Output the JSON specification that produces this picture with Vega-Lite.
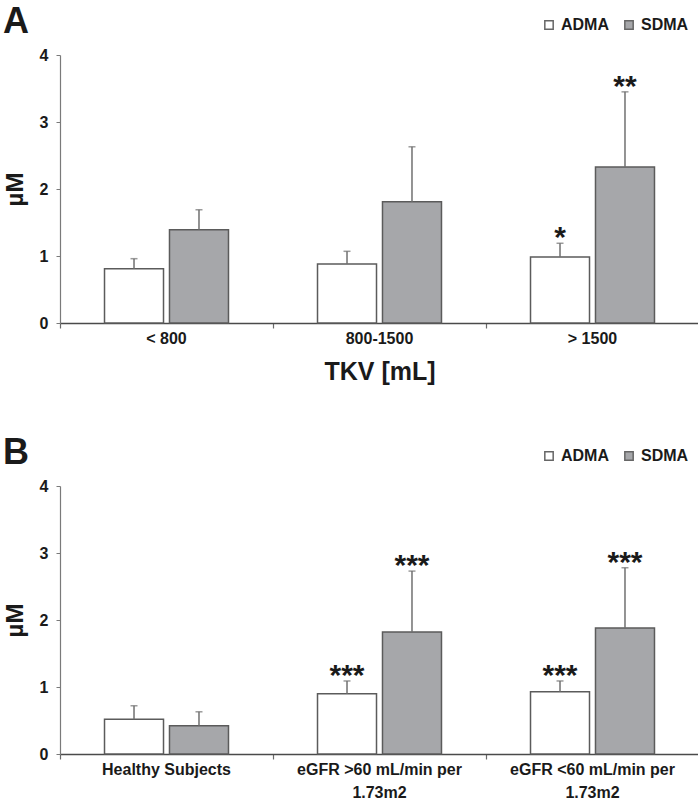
{
  "$schema": "https://vega.github.io/schema/vega-lite/v6.json",
  "padding": {"left": 3, "top": 4, "right": 0, "bottom": 0},
  "background": "white",
  "spacing": 51,
  "config": {
    "font": "Liberation Sans",
    "view": {"stroke": null},
    "axis": {
      "grid": false,
      "labelFont": "Liberation Sans",
      "labelFontWeight": "bold",
      "labelFontSize": 16,
      "labelColor": "#1a1a1a",
      "titleFont": "Liberation Sans",
      "titleFontWeight": "bold",
      "titleColor": "#1a1a1a"
    },
    "axisX": {
      "labelAngle": 0,
      "domainColor": "#4a4a4a",
      "domainWidth": 1.5,
      "tickColor": "#6a6a6a",
      "tickWidth": 1.2,
      "tickSize": 5,
      "labelPadding": 2,
      "labelLimit": 300,
      "bandPosition": 1,
      "tickExtra": true,
      "titleFontSize": 25,
      "titlePadding": 13
    },
    "axisY": {
      "domainColor": "#7a7a7a",
      "domainWidth": 1.2,
      "tickColor": "#7a7a7a",
      "tickSize": 4,
      "labelPadding": 8,
      "titleFontSize": 24,
      "titlePadding": 12
    },
    "legend": {
      "orient": "none",
      "legendX": 481,
      "legendY": -38,
      "direction": "horizontal",
      "title": null,
      "symbolType": "square",
      "symbolSize": 70,
      "symbolStrokeColor": "#666666",
      "symbolStrokeWidth": 1.5,
      "labelFont": "Liberation Sans",
      "labelFontSize": 16,
      "labelFontWeight": "bold",
      "labelColor": "#1a1a1a",
      "labelOffset": 4,
      "columnPadding": 12
    },
    "title": {
      "anchor": "start",
      "frame": "bounds",
      "font": "Liberation Sans",
      "fontSize": 36,
      "fontWeight": "bold",
      "color": "#1a1a1a",
      "offset": -24
    }
  },
  "datasets": {
    "A": [
      {"group": "< 800", "type": "ADMA", "value": 0.81, "err": 0.96, "star": ""},
      {"group": "< 800", "type": "SDMA", "value": 1.39, "err": 1.69, "star": ""},
      {"group": "800-1500", "type": "ADMA", "value": 0.88, "err": 1.07, "star": ""},
      {"group": "800-1500", "type": "SDMA", "value": 1.81, "err": 2.63, "star": ""},
      {"group": "> 1500", "type": "ADMA", "value": 0.985, "err": 1.19, "star": "*"},
      {"group": "> 1500", "type": "SDMA", "value": 2.33, "err": 3.45, "star": "**"}
    ],
    "B": [
      {"group": "Healthy Subjects", "type": "ADMA", "value": 0.52, "err": 0.72, "star": ""},
      {"group": "Healthy Subjects", "type": "SDMA", "value": 0.42, "err": 0.63, "star": ""},
      {"group": "eGFR >60 mL/min per 1.73m2", "type": "ADMA", "value": 0.9, "err": 1.09, "star": "***"},
      {"group": "eGFR >60 mL/min per 1.73m2", "type": "SDMA", "value": 1.82, "err": 2.73, "star": "***"},
      {"group": "eGFR <60 mL/min per 1.73m2", "type": "ADMA", "value": 0.93, "err": 1.09, "star": "***"},
      {"group": "eGFR <60 mL/min per 1.73m2", "type": "SDMA", "value": 1.88, "err": 2.78, "star": "***"}
    ]
  },
  "resolve": {
    "scale": {"x": "independent", "color": "independent"},
    "legend": {"color": "independent"}
  },
  "vconcat": [
    {
      "title": {"text": "A"},
      "width": 639,
      "height": 268,
      "data": {"name": "A"},
      "encoding": {
        "x": {
          "field": "group", "type": "nominal",
          "sort": ["< 800", "800-1500", "> 1500"],
          "scale": {"paddingInner": 0, "paddingOuter": 0},
          "axis": {"title": "TKV [mL]"}
        },
        "xOffset": {
          "field": "type", "type": "nominal", "sort": ["ADMA", "SDMA"],
          "scale": {"paddingInner": 0.092, "paddingOuter": 0.685}
        }
      },
      "layer": [
        {
          "mark": {"type": "bar", "stroke": "#5b5b5b", "strokeWidth": 1.5},
          "encoding": {
            "y": {"field": "value", "type": "quantitative", "scale": {"domain": [0, 4], "nice": false}, "axis": {"title": "µM", "values": [0, 1, 2, 3, 4], "format": "d"}},
            "color": {"field": "type", "type": "nominal", "scale": {"domain": ["ADMA", "SDMA"], "range": ["#ffffff", "#a6a7aa"]}}
          }
        },
        {
          "mark": {"type": "rule", "color": "#707070", "strokeWidth": 1.5},
          "encoding": {"y": {"field": "value", "type": "quantitative"}, "y2": {"field": "err"}}
        },
        {
          "mark": {"type": "tick", "color": "#707070", "thickness": 1.5, "size": 7},
          "encoding": {"y": {"field": "err", "type": "quantitative"}}
        },
        {
          "transform": [{"filter": "datum.star != ''"}],
          "mark": {"type": "text", "fontSize": 30, "fontWeight": "bold", "baseline": "alphabetic", "dy": 4, "color": "#1a1a1a", "font": "Liberation Sans"},
          "encoding": {"y": {"field": "err", "type": "quantitative"}, "text": {"field": "star"}}
        }
      ]
    },
    {
      "title": {"text": "B"},
      "width": 639,
      "height": 268,
      "data": {"name": "B"},
      "encoding": {
        "x": {
          "field": "group", "type": "nominal",
          "sort": ["Healthy Subjects", "eGFR >60 mL/min per 1.73m2", "eGFR <60 mL/min per 1.73m2"],
          "scale": {"paddingInner": 0, "paddingOuter": 0},
          "axis": {"title": null, "labelExpr": "split(replace(datum.label, ' per ', ' per|'), '|')", "labelLineHeight": 23}
        },
        "xOffset": {
          "field": "type", "type": "nominal", "sort": ["ADMA", "SDMA"],
          "scale": {"paddingInner": 0.092, "paddingOuter": 0.685}
        }
      },
      "layer": [
        {
          "mark": {"type": "bar", "stroke": "#5b5b5b", "strokeWidth": 1.5},
          "encoding": {
            "y": {"field": "value", "type": "quantitative", "scale": {"domain": [0, 4], "nice": false}, "axis": {"title": "µM", "values": [0, 1, 2, 3, 4], "format": "d"}},
            "color": {"field": "type", "type": "nominal", "scale": {"domain": ["ADMA", "SDMA"], "range": ["#ffffff", "#a6a7aa"]}}
          }
        },
        {
          "mark": {"type": "rule", "color": "#707070", "strokeWidth": 1.5},
          "encoding": {"y": {"field": "value", "type": "quantitative"}, "y2": {"field": "err"}}
        },
        {
          "mark": {"type": "tick", "color": "#707070", "thickness": 1.5, "size": 7},
          "encoding": {"y": {"field": "err", "type": "quantitative"}}
        },
        {
          "transform": [{"filter": "datum.star != ''"}],
          "mark": {"type": "text", "fontSize": 30, "fontWeight": "bold", "baseline": "alphabetic", "dy": 4, "color": "#1a1a1a", "font": "Liberation Sans"},
          "encoding": {"y": {"field": "err", "type": "quantitative"}, "text": {"field": "star"}}
        }
      ]
    }
  ]
}
